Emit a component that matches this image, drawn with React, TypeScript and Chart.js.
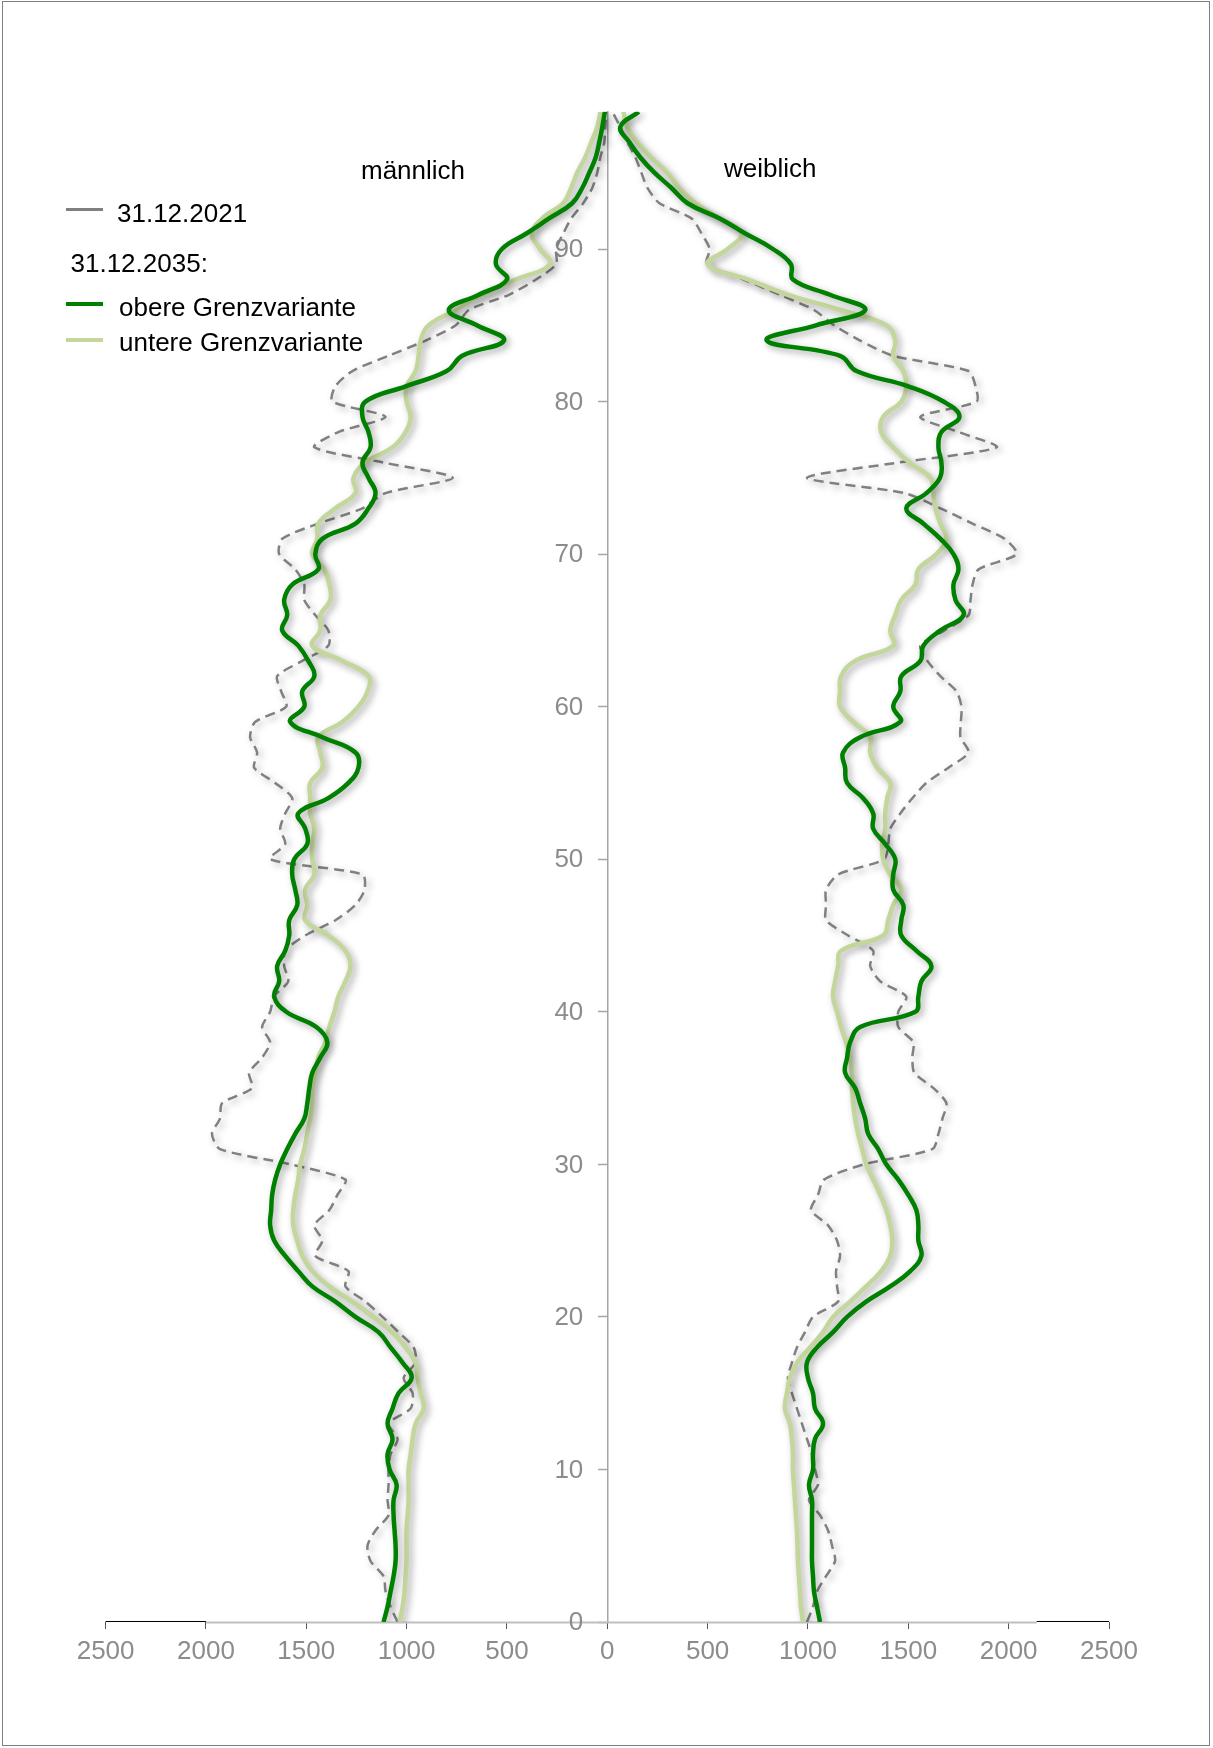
import React, { useEffect, useRef } from 'react';
import { Chart, registerables } from 'chart.js';

Chart.register(...registerables);

const FONT = '"Liberation Sans", Arial, Helvetica, sans-serif';

// Age categories (years), 0..99
const ages = [
  0, 1, 2, 3, 4, 5, 6, 7, 8, 9, 10, 11, 12, 13, 14, 15, 16, 17, 18, 19,
  20, 21, 22, 23, 24, 25, 26, 27, 28, 29, 30, 31, 32, 33, 34, 35, 36, 37, 38, 39,
  40, 41, 42, 43, 44, 45, 46, 47, 48, 49, 50, 51, 52, 53, 54, 55, 56, 57, 58, 59,
  60, 61, 62, 63, 64, 65, 66, 67, 68, 69, 70, 71, 72, 73, 74, 75, 76, 77, 78, 79,
  80, 81, 82, 83, 84, 85, 86, 87, 88, 89, 90, 91, 92, 93, 94, 95, 96, 97, 98, 99,
];

// männlich
const maleObere = [
  1115, 1095, 1080, 1065, 1055, 1055, 1060, 1065, 1065, 1050,
  1085, 1095, 1070, 1095, 1070, 1040, 975, 1020, 1080, 1140,
  1255, 1355, 1470, 1540, 1605, 1660, 1680, 1675, 1670, 1655,
  1630, 1595, 1555, 1510, 1495, 1485, 1470, 1430, 1395, 1450,
  1600, 1660, 1635, 1645, 1605, 1585, 1585, 1545, 1555, 1570,
  1560, 1495, 1505, 1540, 1390, 1290, 1240, 1255, 1420, 1580,
  1510, 1520, 1460, 1490, 1540, 1620, 1595, 1610, 1570, 1440,
  1455, 1420, 1255, 1190, 1155, 1190, 1220, 1180, 1190, 1220,
  1205, 1005, 800, 723, 515, 650, 790, 640, 500, 555,
  525, 405, 290, 175, 125, 90, 58, 40, 25, 12,
];
const maleUntere = [
  1035, 1020, 1010, 1005, 1000, 1000, 1000, 995, 990, 990,
  990, 980, 970, 955, 915, 930, 945, 955, 1005, 1070,
  1165, 1270, 1385, 1470, 1520, 1545, 1565, 1565, 1555, 1540,
  1530, 1510, 1495, 1480, 1470, 1470, 1455, 1440, 1405, 1385,
  1360, 1340, 1305, 1280, 1305, 1390, 1505, 1495, 1505, 1460,
  1470, 1470, 1460, 1480, 1480, 1480, 1420, 1430, 1440, 1320,
  1240, 1195, 1190, 1320, 1470, 1430, 1430, 1380, 1385, 1410,
  1470, 1445, 1440, 1355, 1255, 1265, 1205, 1070, 1005, 980,
  1000, 1000, 955, 940, 930, 890, 755, 625, 455, 285,
  335, 375, 325, 220, 180, 150, 110, 80, 50, 35,
];
const male2021 = [
  1045, 1080, 1105, 1115, 1180, 1195, 1155, 1090, 1095, 1090,
  1090, 1080, 1045, 1090, 980, 970, 1015, 955, 965, 1040,
  1120, 1205, 1305, 1290, 1455, 1420, 1460, 1385, 1345, 1305,
  1580, 1930, 1970, 1930, 1920, 1770, 1785, 1720, 1680, 1720,
  1680, 1660, 1590, 1610, 1605, 1505, 1355, 1255, 1210, 1220,
  1680, 1605, 1630, 1605, 1570, 1655, 1760, 1745, 1780, 1755,
  1600, 1625, 1645, 1520, 1390, 1390, 1455, 1510, 1510, 1555,
  1635, 1620, 1440, 1220, 1105, 770, 1115, 1460, 1340, 1105,
  1370, 1355, 1270, 1090, 905, 755, 690, 490, 355, 255,
  255, 220, 180, 120, 75, 50, 35, 15, 10, 5,
];

// weiblich
const femaleObere = [
  1060, 1045, 1030, 1025, 1020, 1020, 1020, 1020, 1020, 1005,
  1025, 1025, 1035, 1075, 1035, 1025, 1000, 995, 1045, 1125,
  1195, 1290, 1410, 1510, 1565, 1550, 1550, 1540, 1500, 1450,
  1390, 1350, 1300, 1285, 1260, 1235, 1185, 1195, 1210, 1260,
  1535, 1550, 1565, 1615, 1540, 1465, 1465, 1475, 1425, 1425,
  1435, 1385, 1325, 1325, 1275, 1195, 1185, 1175, 1260, 1460,
  1425, 1460, 1465, 1560, 1575, 1660, 1775, 1735, 1725, 1750,
  1725, 1660, 1575, 1490, 1590, 1658, 1665, 1650, 1665, 1755,
  1675, 1500, 1242, 1160, 795, 1040, 1285, 1110, 925, 915,
  825, 690, 560, 400, 320, 235, 165, 110, 65, 157,
];
const femaleUntere = [
  975, 965, 960, 955, 950, 948, 945, 940, 935, 930,
  925, 925, 920, 910, 885, 895, 910, 945, 1010, 1075,
  1125, 1210, 1290, 1365, 1410, 1420, 1410, 1390, 1360, 1325,
  1290, 1270, 1250, 1235, 1225, 1220, 1220, 1210, 1190, 1165,
  1145, 1125, 1135, 1150, 1165, 1375, 1400, 1425, 1465, 1410,
  1375, 1370, 1385, 1385, 1395, 1410, 1345, 1310, 1310, 1225,
  1160, 1160, 1165, 1235, 1425, 1410, 1435, 1465, 1535, 1550,
  1640, 1690, 1660, 1635, 1625, 1610, 1505, 1425, 1365, 1375,
  1465, 1490, 1475, 1425, 1435, 1390, 1160, 900, 700, 500,
  600, 670, 560, 440, 360, 300, 220, 150, 100, 80,
];
const female2021 = [
  995, 1025, 1045, 1090, 1135, 1120, 1100, 1060, 1005, 1050,
  1035, 1020, 995, 970, 945, 920, 900, 920, 945, 985,
  1025, 1150, 1145, 1140, 1160, 1145, 1100, 1015, 1050, 1080,
  1280, 1620, 1650, 1670, 1690, 1625, 1530, 1520, 1525, 1450,
  1450, 1490, 1360, 1310, 1325, 1200, 1090, 1090, 1090, 1150,
  1380, 1400, 1410, 1460, 1520, 1590, 1700, 1800, 1760, 1762,
  1765, 1740, 1660, 1595, 1560, 1680, 1800, 1810, 1820, 1850,
  2040, 1980, 1820, 1660, 1480, 995, 1450, 1940, 1750, 1560,
  1840, 1835, 1800, 1425, 1260, 1130, 1030, 860, 680, 495,
  510, 470, 420, 260, 200, 170, 140, 100, 65, 25,
];

const xTickValues = [-2500, -2000, -1500, -1000, -500, 0, 500, 1000, 1500, 2000, 2500];
const xTickLabels = ['2500', '2000', '1500', '1000', '500', '0', '500', '1000', '1500', '2000', '2500'];
const yTickValues = [0, 10, 20, 30, 40, 50, 60, 70, 80, 90];
const yTickLabels = ['0', '10', '20', '30', '40', '50', '60', '70', '80', '90'];

const DARK = '#008000';
const LIGHT = '#c3d69b';
const GRAY = '#808080';
const TICK_GRAY = '#8c8c8c';

const shadowPlugin = {
  id: 'lineShadow',
  beforeDatasetDraw(chart: any) {
    const ctx = chart.ctx;
    ctx.save();
    ctx.shadowColor = 'rgba(0,0,0,0.35)';
    ctx.shadowBlur = 7;
    ctx.shadowOffsetX = 3;
    ctx.shadowOffsetY = 3;
  },
  afterDatasetDraw(chart: any) {
    chart.ctx.restore();
  },
};

const axisDecorPlugin = {
  id: 'axisDecor',
  beforeDatasetsDraw(chart: any) {
    const { ctx, chartArea, scales } = chart;
    const x = scales.x;
    const y = scales.y;
    const yb = chartArea.bottom;
    ctx.save();
    ctx.strokeStyle = '#bfbfbf';
    ctx.lineWidth = 2;
    ctx.beginPath();
    ctx.moveTo(x.getPixelForValue(-2000), yb + 0.5);
    ctx.lineTo(x.getPixelForValue(2140), yb + 0.5);
    ctx.stroke();
    ctx.strokeStyle = '#000000';
    ctx.lineWidth = 1;
    ctx.beginPath();
    ctx.moveTo(x.getPixelForValue(-2500), yb - 0.5);
    ctx.lineTo(x.getPixelForValue(-2000), yb - 0.5);
    ctx.moveTo(x.getPixelForValue(2140), yb - 0.5);
    ctx.lineTo(x.getPixelForValue(2500), yb - 0.5);
    ctx.stroke();
    ctx.fillStyle = TICK_GRAY;
    ctx.font = `26px ${FONT}`;
    ctx.textAlign = 'right';
    ctx.textBaseline = 'middle';
    const x0 = x.getPixelForValue(0);
    yTickValues.forEach((v, i) => {
      ctx.fillText(yTickLabels[i], x0 - 24, y.getPixelForValue(v) + 1);
    });
    ctx.restore();
  },
};

function series(label: string, values: number[], sign: number, color: string, width: number, dash: number[], order: number, tension: number) {
  return {
    label,
    data: ages.map((a, i) => ({ x: sign * values[i], y: a })),
    borderColor: color,
    backgroundColor: color,
    borderWidth: width,
    borderDash: dash,
    borderCapStyle: 'butt',
    borderJoinStyle: 'round',
    pointRadius: 0,
    pointHoverRadius: 0,
    tension,
    fill: false,
    order,
  };
}

export default function App() {
  const canvasRef = useRef<HTMLCanvasElement | null>(null);

  useEffect(() => {
    const canvas = canvasRef.current;
    if (!canvas) return;
    const chart = new Chart(canvas, {
      type: 'line',
      data: {
        datasets: [
          series('obere Grenzvariante (m)', maleObere, -1, DARK, 4.5, [], 0, 0.42),
          series('obere Grenzvariante (w)', femaleObere, 1, DARK, 4.5, [], 0, 0.42),
          series('untere Grenzvariante (m)', maleUntere, -1, LIGHT, 4.5, [], 1, 0.42),
          series('untere Grenzvariante (w)', femaleUntere, 1, LIGHT, 4.5, [], 1, 0.42),
          series('31.12.2021 (m)', male2021, -1, GRAY, 2.5, [10, 6], 2, 0.25),
          series('31.12.2021 (w)', female2021, 1, GRAY, 2.5, [10, 6], 2, 0.25),
        ] as any,
      },
      options: {
        responsive: false,
        animation: false,
        devicePixelRatio: 1,
        events: [],
        layout: { padding: { left: 105.6, right: 104, top: 111.7, bottom: 0 } },
        plugins: {
          legend: { display: false },
          tooltip: { enabled: false },
        },
        scales: {
          x: {
            type: 'linear',
            position: 'bottom',
            min: -2500,
            max: 2500,
            afterBuildTicks: (s: any) => {
              s.ticks = xTickValues.map((v) => ({ value: v }));
            },
            afterFit: (s: any) => {
              s.height = 126;
            },
            ticks: {
              callback: (_v: any, i: number) => xTickLabels[i],
              color: TICK_GRAY,
              font: { size: 26, family: FONT },
              padding: 7,
              maxRotation: 0,
              autoSkip: false,
            },
            grid: {
              drawOnChartArea: false,
              drawTicks: true,
              tickLength: 7,
              tickColor: '#555555',
              tickWidth: 1,
            },
            border: { display: false },
          },
          y: {
            type: 'linear',
            position: { x: 0 } as any,
            min: 0,
            max: 99,
            afterBuildTicks: (s: any) => {
              s.ticks = yTickValues.map((v) => ({ value: v }));
            },
            ticks: { display: false },
            grid: {
              drawOnChartArea: false,
              drawTicks: true,
              tickLength: 9,
              tickColor: '#a6a6a6',
              tickWidth: 1.5,
            },
            border: { display: true, color: '#a6a6a6', width: 1.5 },
          },
        },
      } as any,
      plugins: [shadowPlugin, axisDecorPlugin],
    });
    return () => chart.destroy();
  }, []);

  const text = (content: string, left: number, top: number) => (
    <div
      style={{
        position: 'absolute',
        left,
        top,
        fontFamily: FONT,
        fontSize: 26,
        lineHeight: '26px',
        color: '#000',
        whiteSpace: 'nowrap',
      }}
    >
      {content}
    </div>
  );

  const swatch = (color: string, top: number, h: number) => (
    <div style={{ position: 'absolute', left: 66, top: top - h / 2, width: 37, height: h, background: color }} />
  );

  return (
    <div style={{ position: 'absolute', left: 0, top: 0, width: 1213, height: 1748, background: '#fff', overflow: 'hidden' }}>
      <canvas ref={canvasRef} width={1213} height={1748} style={{ position: 'absolute', left: 0, top: 0, width: 1213, height: 1748 }} />
      <div style={{ position: 'absolute', left: 2, top: 1, width: 1208, height: 1745, border: '1px solid #7f7f7f', boxSizing: 'border-box', pointerEvents: 'none' }} />
      {text('männlich', 361, 157)}
      {text('weiblich', 724, 155)}
      {swatch(GRAY, 209.5, 3)}
      {text('31.12.2021', 117, 200)}
      {text('31.12.2035:', 70.5, 250)}
      {swatch(DARK, 304, 4)}
      {text('obere Grenzvariante', 119, 294)}
      {swatch(LIGHT, 339.5, 4)}
      {text('untere Grenzvariante', 119, 329)}
    </div>
  );
}
